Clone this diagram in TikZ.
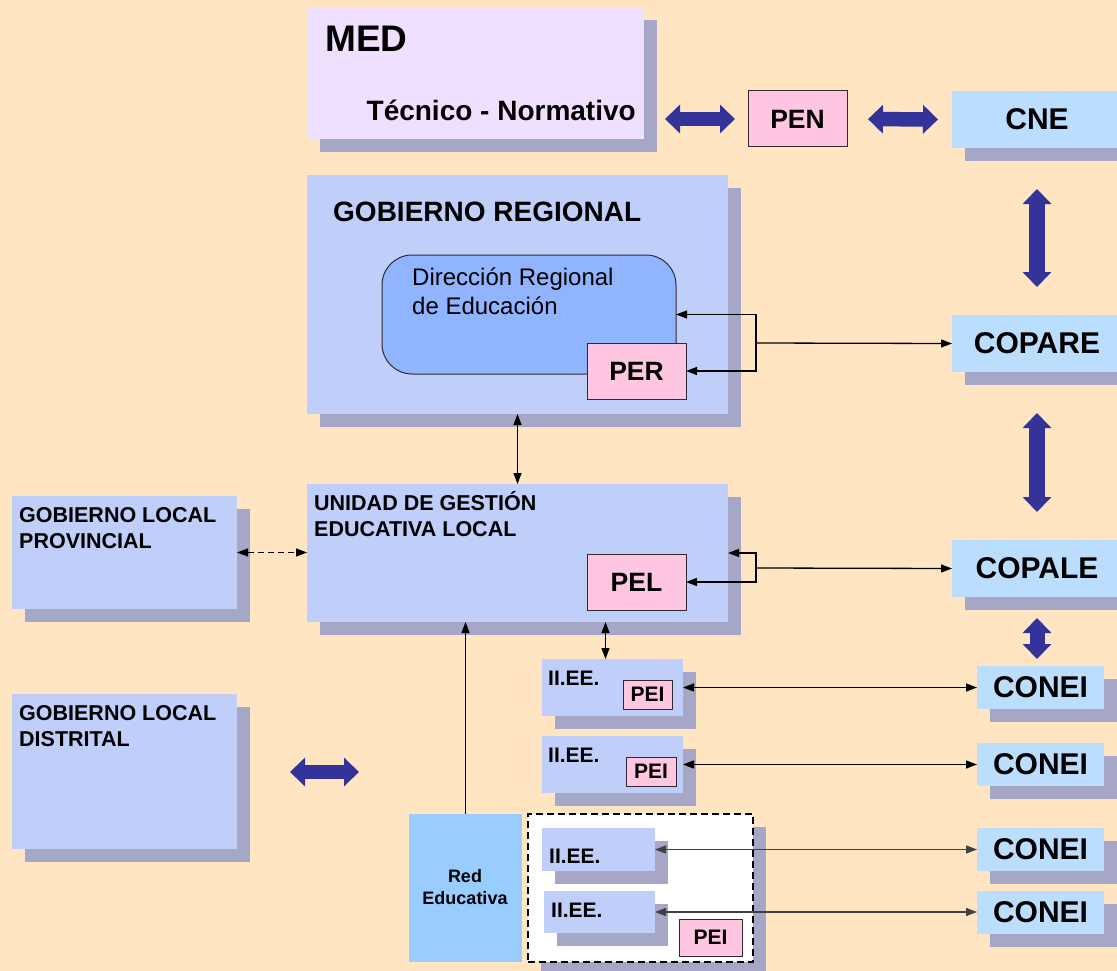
\documentclass[tikz,border=0pt]{standalone}
\usepackage{fontspec}
\setmainfont{Liberation Sans}
\usetikzlibrary{arrows.meta,shadows}
\definecolor{bgc}{RGB}{255,229,194}
\definecolor{shc}{RGB}{166,166,198}
\definecolor{lbc}{RGB}{192,207,250}
\definecolor{cnec}{RGB}{187,222,255}
\definecolor{medc}{RGB}{240,224,255}
\definecolor{pinkc}{RGB}{255,198,226}
\definecolor{drec}{RGB}{145,180,255}
\definecolor{redc}{RGB}{153,204,255}
\definecolor{fatc}{RGB}{51,51,153}
\definecolor{bordc}{RGB}{50,40,50}
\newcommand{\myfs}[1]{\fontsize{#1}{#1}\selectfont}
\tikzset{
  fattip/.tip={Triangle[width=28pt,length=15pt]},
  tt/.tip={Triangle[width=8pt,length=11pt]},
  bx/.style={anchor=north west, inner sep=0pt, outer sep=0pt},
  sh/.style={drop shadow={shadow xshift=13pt,shadow yshift=-13pt,fill=shc,opacity=1}},
  lbox/.style={bx, sh, fill=lbc},
  cbox/.style={bx, sh, fill=cnec, font=\bfseries\myfs{30}},
  pbox/.style={bx, fill=pinkc, draw=bordc, line width=1pt, font=\bfseries\myfs{26.5}},
  pibox/.style={bx, fill=pinkc, draw=bordc, line width=1pt, font=\bfseries\myfs{21}},
  tx/.style={inner sep=0pt, anchor=base west},
  fat/.style={draw=fatc, line width=14.5pt, fattip-fattip},
  tarr/.style={draw=black, line width=1.3pt, -tt},
  tboth/.style={draw=black, line width=1.3pt, tt-tt},
}
\begin{document}
\begin{tikzpicture}[x=1pt,y=-1pt]
\fill[bgc] (0,0) rectangle (1117,971);
\useasboundingbox (0,0) rectangle (1117,971);

% --- top row
\node[bx, sh, fill=medc, minimum width=337pt, minimum height=132pt] (med) at (307,7) {};
\node[tx, font=\bfseries\myfs{37}] (tmed) at (325,52) {MED};
\node[tx, anchor=base east, font=\bfseries\myfs{28}] (ttec) at (636,121) {Técnico - Normativo};
\node[pbox, minimum width=99pt, minimum height=56pt] (pen) at (748,91) {PEN};
\node[cbox, minimum width=170pt, minimum height=57pt] (cne) at (952,91) {CNE};

% --- right column
\node[cbox, minimum width=170pt, minimum height=57pt] (copare) at (952,315) {COPARE};
\node[cbox, minimum width=170pt, minimum height=57pt] (copale) at (952,540) {COPALE};
\node[cbox, minimum width=127pt, minimum height=43pt] (conei1) at (977,666) {CONEI};
\node[cbox, minimum width=127pt, minimum height=43pt] (conei2) at (977,743) {CONEI};
\node[cbox, minimum width=127pt, minimum height=43pt] (conei3) at (977,828) {CONEI};
\node[cbox, minimum width=127pt, minimum height=43pt] (conei4) at (977,891) {CONEI};

% --- gobierno regional
\node[lbox, minimum width=421pt, minimum height=239pt] (gr) at (307,175) {};
\node[tx, font=\bfseries\myfs{28}] (tgr) at (333,222) {GOBIERNO REGIONAL};
\node[bx, fill=drec, draw=bordc, line width=1pt, rounded corners=30pt, minimum width=294pt, minimum height=119pt] (dre) at (382,255) {};
\node[tx, font=\myfs{24}] (tdre1) at (412,285) {Dirección Regional};
\node[tx, font=\myfs{24}] (tdre2) at (412,314) {de Educación};
\node[pbox, minimum width=99pt, minimum height=56pt] (per) at (587,343) {PER};

% --- UGEL
\node[lbox, minimum width=421pt, minimum height=138pt] (ugel) at (307,484) {};
\node[tx, font=\bfseries\myfs{21.5}] (tug1) at (314,510) {UNIDAD DE GESTIÓN};
\node[tx, font=\bfseries\myfs{21.5}] (tug2) at (314,536) {EDUCATIVA LOCAL};
\node[pbox, minimum width=99pt, minimum height=56pt] (pel) at (587,554) {PEL};

% --- gobiernos locales
\node[lbox, minimum width=225pt, minimum height=113pt] (glp) at (12,496) {};
\node[tx, font=\bfseries\myfs{21.5}] (tglp1) at (19,522) {GOBIERNO LOCAL};
\node[tx, font=\bfseries\myfs{21.5}] (tglp2) at (19,548) {PROVINCIAL};
\node[lbox, minimum width=225pt, minimum height=155pt] (gld) at (12,694) {};
\node[tx, font=\bfseries\myfs{21.5}] (tgld1) at (19,720) {GOBIERNO LOCAL};
\node[tx, font=\bfseries\myfs{21.5}] (tgld2) at (19,746) {DISTRITAL};

% --- II.EE.
\node[lbox, minimum width=141pt, minimum height=57pt] (iiee1) at (542,659) {};
\node[tx, font=\bfseries\myfs{21}] (tie1) at (548,685) {II.EE.};
\node[pibox, minimum width=49pt, minimum height=29pt] (pei1) at (623,680) {PEI};
\node[lbox, minimum width=141pt, minimum height=57pt] (iiee2) at (542,736) {};
\node[tx, font=\bfseries\myfs{21}] (tie2) at (548,762) {II.EE.};
\node[pibox, minimum width=50pt, minimum height=29pt] (pei2) at (626,757) {PEI};

% --- red educativa
\node[bx, fill=redc, minimum width=113pt, minimum height=148pt] (red) at (409,814) {};
\node[inner sep=0pt, anchor=base, font=\bfseries\myfs{18}] (tred1) at (465,882) {Red};
\node[inner sep=0pt, anchor=base, font=\bfseries\myfs{18}] (tred2) at (465,904) {Educativa};
\node[bx, sh, fill=white, draw=black, line width=1.5pt, dash pattern=on 7pt off 4pt, minimum width=225pt, minimum height=148pt] (dash) at (528,814) {};
\node[lbox, minimum width=113pt, minimum height=43pt] (iiee3) at (542,828) {};
\node[tx, font=\bfseries\myfs{21}] (tie3) at (549,863) {II.EE.};
\node[lbox, minimum width=111pt, minimum height=42pt] (iiee4) at (544,891) {};
\node[tx, font=\bfseries\myfs{21}] (tie4) at (551,917) {II.EE.};
\node[pibox, minimum width=63pt, minimum height=37pt] (pei3) at (679,919) {PEI};

% --- fat arrows
\draw[fat, shorten <=21pt, shorten >=13pt] (med.east |- pen.west) -- (pen.west);
\draw[fat, shorten <=21pt, shorten >=14pt] (pen.east) -- (cne.west);
\draw[fat, line width=16pt, shorten <=41pt, shorten >=28pt] (cne.south) -- (copare.north);
\draw[fat, line width=16pt, shorten <=41pt, shorten >=28pt] (copare.south) -- (copale.north);
\draw[fat, line width=15pt, shorten <=21pt, shorten >=7pt] (copale.south) -- (copale.south |- conei1.north);
\coordinate (fatend) at (359,772);
\draw[fat, shorten <=53pt] (gld.east |- fatend) -- (fatend);

% --- thin connectors
\coordinate (bx1) at (756,343);
\draw[tarr] (bx1) -- (copare.west);
\draw[tarr] (bx1) |- (dre.east);
\draw[tarr] (bx1) |- (per.east);
\coordinate (bx2) at (756,568);
\draw[tarr] (bx2) -- (copale.west);
\draw[tarr] (bx2) |- (ugel.east);
\draw[tarr] (bx2) |- (pel.east);
\draw[tboth] (gr.south) -- (ugel.north);
\draw[tboth, dash pattern=on 6pt off 4pt] (glp.east) -- (glp.east -| ugel.west);
\draw[tarr] (red.north) -- (red.north |- ugel.south);
\draw[tboth] ([xshift=-7pt]iiee1.north) -- ([xshift=-7pt]iiee1.north |- ugel.south);
\draw[tboth] (iiee1.east) -- (iiee1.east -| conei1.west);
\draw[tboth] (iiee2.east) -- (iiee2.east -| conei2.west);
\draw[tboth, draw=black!75] (iiee3.east) -- (iiee3.east -| conei3.west);
\draw[tboth, draw=black!75] (iiee4.east) -- (iiee4.east -| conei4.west);
\end{tikzpicture}
\end{document}
